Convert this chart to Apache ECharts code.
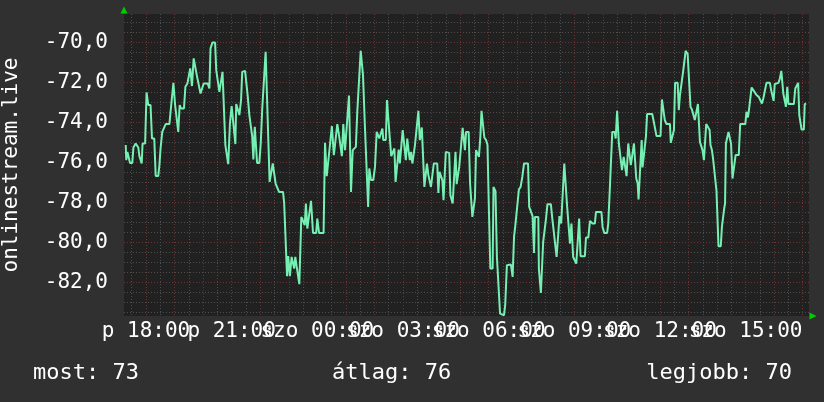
<!DOCTYPE html>
<html><head><meta charset="utf-8">
<script src="https://cdn.jsdelivr.net/npm/echarts@6/dist/echarts.min.js"></script>
<style>html,body{margin:0;padding:0;background:#303030;}#c{width:824px;height:402px;}</style>
</head><body><div id="c"></div>
<script>
// time in hours since Friday 00:00 (24 = Saturday 00:00)
const times = [
17.29,17.31,17.35,17.41,17.44,17.52,17.56,17.64,17.73,17.77,17.85,17.88,17.97,18.02,18.08,18.16,18.21,18.29,18.34,18.43,
18.47,18.51,18.57,18.64,18.69,18.82,18.86,18.91,18.96,19.02,19.07,19.13,19.18,19.23,19.33,19.38,19.45,19.51,19.55,19.61,
19.67,19.74,19.79,19.84,19.91,19.97,20.02,20.16,20.22,20.26,20.33,20.42,20.46,20.51,20.57,20.63,20.68,20.74,20.78,20.82,
20.88,20.94,21.00,21.07,21.13,21.16,21.21,21.27,21.33,21.37,21.47,21.51,21.56,21.62,21.67,21.72,21.76,21.81,21.85,21.89,
21.97,22.02,22.07,22.14,22.19,22.25,22.28,22.33,22.40,22.44,22.49,22.54,22.61,22.66,22.80,22.84,22.89,22.94,22.98,23.04,
23.10,23.15,23.19,23.23,23.28,23.35,23.37,23.42,23.44,23.51,23.56,23.60,23.65,23.72,23.78,23.82,23.85,23.96,24.00,24.06,
24.22,24.27,24.33,24.40,24.43,24.48,24.51,24.58,24.65,24.70,24.76,24.82,24.86,24.91,24.97,25.04,25.11,
25.18,25.24,25.31,25.35,25.40,25.46,25.52,25.57,25.60,25.63,25.67,25.73,25.78,25.82,25.88,25.96,26.02,26.08,26.15,26.17,
26.24,26.28,26.31,26.40,26.44,26.49,26.54,26.59,26.66,26.70,26.74,26.81,26.85,26.89,26.95,26.99,27.06,27.10,27.15,27.20,
27.24,27.28,27.33,27.38,27.42,27.48,27.54,27.59,27.66,27.71,27.75,27.80,27.84,27.89,27.94,27.98,28.04,28.08,28.20,28.24,
28.28,28.34,28.38,28.42,28.48,28.50,28.62,28.66,28.70,28.74,28.80,28.84,28.88,28.94,28.97,29.04,29.09,29.13,29.17,29.21,
29.30,29.35,29.39,29.43,29.49,29.52,29.56,29.61,29.66,29.71,29.75,29.81,29.85,29.91,29.96,30.01,30.06,30.14,30.17,30.24,
30.29,30.35,30.40,30.47,30.54,30.58,30.64,30.78,30.84,30.89,30.94,31.00,31.06,31.12,31.18,31.24,31.38,31.42,31.49,31.54,
31.59,31.62,31.74,31.76,31.80,31.83,31.88,31.91,31.97,32.01,32.06,32.18,32.23,32.27,32.33,32.38,32.44,32.48,32.54,32.60,
32.65,32.71,32.75,32.81,32.85,32.90,32.96,33.02,33.07,33.13,33.17,33.22,33.37,33.41,33.49,33.55,
33.64,33.72,33.76,33.95,33.99,34.05,34.15,34.19,34.25,34.29,34.33,34.41,34.45,34.50,34.56,34.62,34.67,34.73,34.78,34.83,
34.89,34.95,34.98,35.04,35.09,35.13,35.17,35.22,35.25,35.32,35.36,35.39,35.46,35.51,35.55,35.73,35.80,35.88,36.02,36.07,
36.13,36.17,36.23,36.35,36.38,36.44,36.49,36.53,36.62,36.66,36.70,36.76,36.81,36.86,36.90,36.97,37.02,37.07,37.12,37.18,
37.22,37.28,37.33,37.37,37.40,37.46,37.49,37.54,37.58,37.62,37.69,37.74,37.77,37.82,37.86,37.93,37.98,38.02,38.05,38.13,
38.17,38.21,38.25,38.28,38.31,38.36,38.40,38.45,38.49,38.54,38.60,38.65,38.76,38.81,38.99,39.03,39.08,39.11,39.16,39.21,
39.27,39.31,39.38,39.46,39.52,39.57,39.62,39.67,39.73,39.85,39.90,39.94,39.98,40.02,40.09,40.15,40.20,40.25,40.29,40.32,
40.35,40.39,40.41,40.46,40.50,40.69,40.74,40.78,40.84,40.88,40.92,40.96,41.04,41.07,41.12
];
const values = [
-75.13,-75.88,-75.47,-75.47,-76.02,-76.02,-75.25,-75.05,-75.25,-75.68,-76.05,-75.05,-75.05,-72.5,-73.13,-73.13,-74.8,-74.8,-76.67,-76.67,
-76.13,-75.3,-74.47,-74.47,-74.08,-74.08,-73.47,-73.47,-72.02,-73.13,-73.13,-74.47,-73.13,-73.3,-73.3,-72.22,-72.05,-72.05,-71.3,-72.18,
-70.8,-70.8,-71.72,-71.8,-72.55,-72.55,-72.05,-72.05,-72.3,-70.3,-70.0,-70.0,-71.38,-71.47,-72.47,-72.55,-71.47,-71.47,-75.13,-75.13,
-76.08,-74.05,-73.18,-73.18,-75.08,-73.08,-73.08,-73.63,-72.88,-71.47,-71.42,-71.42,-72.63,-73.63,-73.63,-74.68,-75.85,-74.22,-74.22,-76.02,
-76.02,-75.02,-73.35,-73.35,-70.47,-70.47,-74.68,-76.97,-76.97,-76.05,-76.05,-77.05,-77.05,-77.47,-77.47,-78.05,-78.05,-81.68,-80.68,-81.68,
-80.72,-80.72,-81.3,-80.72,-81.22,-81.22,-82.08,-82.08,-78.72,-78.72,-79.13,-78.05,-79.3,-79.3,-77.92,-77.92,-79.52,-79.52,-78.8,-79.52,
-79.52,-75.02,-76.68,-76.68,-75.3,-75.3,-74.18,-75.63,-75.63,-74.08,-74.63,-74.63,-75.68,-74.08,-75.38,-75.38,-72.65,
-77.47,-75.38,-75.47,-75.22,-73.47,-73.38,-70.42,-70.42,-71.63,-71.63,-74.3,-74.3,-78.22,-76.3,-76.88,-76.88,-76.22,-74.47,-74.47,-74.8,
-74.8,-74.3,-74.88,-74.88,-72.88,-72.88,-74.8,-75.68,-75.68,-75.3,-76.97,-76.97,-75.35,-76.05,-76.05,-74.38,-74.38,-75.88,-74.8,-75.47,
-75.88,-75.47,-76.05,-76.05,-75.13,-75.05,-73.42,-74.88,-74.25,-74.25,-77.22,-77.22,-76.05,-76.63,-76.63,-77.22,-77.22,-76.05,-76.05,-77.52,
-76.47,-76.47,-76.88,-77.88,-77.88,-75.47,-75.52,-77.63,-77.63,-78.05,-78.05,-75.47,-77.08,-77.08,-76.22,-76.22,-74.27,-74.27,-75.38,-74.47,
-74.47,-77.05,-77.05,-78.72,-78.72,-77.8,-75.38,-75.38,-75.72,-74.72,-73.42,-73.42,-74.75,-74.88,-75.13,-78.38,-81.3,-81.3,-77.22,-77.43,
-80.72,-80.72,-83.55,-83.63,-83.63,-83.13,-81.13,-81.1,-81.72,-79.72,-79.08,-79.02,-77.35,-77.22,-76.72,-76.05,-76.05,-78.22,-78.22,-78.68,
-80.52,-78.72,-78.72,-81.3,-81.3,-82.52,-82.52,-79.97,-79.97,-78.8,-78.08,-78.08,-78.8,-79.3,-79.3,-80.72,-79.55,-78.68,-79.05,-79.05,
-76.05,-76.05,-78.22,-78.22,-80.05,-79.05,-80.72,-80.72,-81.05,-79.72,-78.8,-80.68,-80.68,-79.75,-79.75,-78.92,
-79.05,-79.05,-78.47,-78.47,-79.22,-79.52,-79.52,-79.05,-77.13,-77.05,-74.47,-74.47,-74.8,-73.42,-75.05,-75.05,-76.38,-75.72,-75.72,-76.68,
-75.05,-75.05,-76.13,-76.13,-75.05,-75.05,-76.8,-77.05,-77.85,-77.85,-74.88,-76.25,-76.25,-74.68,-73.58,-73.58,-74.08,-74.68,-74.68,-72.85,
-72.85,-73.88,-74.08,-74.08,-75.02,-75.02,-74.38,-72.02,-72.02,-73.38,-72.63,-72.63,-71.47,-71.47,-70.42,-70.58,-70.58,-73.22,-73.35,-73.38,
-73.88,-73.88,-73.08,-73.08,-74.97,-75.05,-75.38,-75.88,-75.88,-74.08,-74.08,-74.38,-75.13,-75.38,-75.8,-75.8,-77.42,-77.42,-80.18,-80.18,
-79.22,-79.22,-78.3,-78.05,-75.05,-75.05,-74.47,-74.8,-75.05,-76.8,-76.8,-75.63,-75.63,-74.08,-74.08,-73.47,-73.75,-73.47,-73.47,-72.25,
-72.25,-72.47,-72.63,-72.72,-72.75,-73.05,-72.8,-72.72,-72.02,-72.02,-72.42,-72.42,-72.92,-72.08,-72.02,-72.02,-71.8,-71.42,-71.42,-72.55,
-72.55,-73.05,-73.22,-72.22,-73.08,-73.08,-72.3,-72.3,-72.02,-73.63,-73.63,-74.35,-74.35,-73.08,-73.05
];
const xLabelHours = [18, 21, 24, 27, 30, 33, 36, 39];
const xLabelTexts = ['p 18:00', 'p 21:00', 'szo 00:00', 'szo 03:00', 'szo 06:00', 'szo 09:00', 'szo 12:00', 'szo 15:00'];
const yLabelValues = [-82, -80, -78, -76, -74, -72, -70];
const yAxisTitle = 'onlinestream.live';
const legendTexts = ['most: 73', 'átlag: 76', 'legjobb: 70'];

const X_MIN = 17.23, X_MAX = 41.22;
const Y_MIN = -83.67, Y_MAX = -68.58;

const FONT = 'DejaVu Sans Mono';
const GRAY = '#4e4e4e';
const RED = '#6a3434';

const xMinor = [], xMajor = [];
for (let h = 17.5; h < X_MAX; h += 0.5) {
  if (Math.abs(h - Math.round(h)) < 1e-6) xMajor.push(h); else xMinor.push(h);
}
const yMinor = [];
for (let v = -83.5; v < Y_MAX; v += 0.5) {
  const r = Math.round(v * 2) / 2;
  if (!yLabelValues.includes(r)) yMinor.push(r);
}
// split the (overlapping) time labels over two axes so none gets hidden
const xLabelsA = xLabelHours.filter((_, i) => i % 2 === 0);
const xLabelsB = xLabelHours.filter((_, i) => i % 2 === 1);
const xLabelFmt = v => xLabelTexts[xLabelHours.indexOf(Math.round(v))] || '';

const data = times.map((t, i) => [t, values[i]]);
const legendStyle = {color: '#fff', fontFamily: FONT, fontSize: 22, fontWeight: 'normal'};
const xLabelStyle = {show: true, hideOverlap: false, showMinLabel: true, showMaxLabel: true,
                     margin: 5, color: '#fff', fontFamily: FONT, fontSize: 21, formatter: xLabelFmt};

const chart = echarts.init(document.getElementById('c'), null, {renderer: 'canvas'});
chart.setOption({
  animation: false,
  backgroundColor: '#303030',
  grid: {left: 124, right: 15, top: 14, bottom: 86, containLabel: false, outerBoundsMode: 'none',
         show: true, backgroundColor: '#212121', borderWidth: 0},
  title: [
    {text: legendTexts[0], left: 33, top: 362, padding: 0, textStyle: legendStyle},
    {text: legendTexts[1], left: 332, top: 362, padding: 0, textStyle: legendStyle},
    {text: legendTexts[2], right: 32, top: 362, padding: 0, textStyle: legendStyle}
  ],
  xAxis: [
    {type: 'value', min: X_MIN, max: X_MAX, position: 'bottom',
     axisLine: {show: false}, axisTick: {show: false, customValues: xMinor}, axisLabel: {show: false},
     splitLine: {show: true, customValues: xMinor, lineStyle: {color: GRAY, type: [1, 2], width: 1}}},
    {type: 'value', min: X_MIN, max: X_MAX, position: 'bottom',
     axisLine: {show: true, symbol: ['none', 'triangle'], symbolSize: [7, 7], symbolOffset: [0, 4],
                lineStyle: {color: '#00cc00', width: 0}},
     axisTick: {show: false, customValues: xMajor},
     splitLine: {show: true, customValues: xMajor, lineStyle: {color: RED, type: [1, 2], width: 1}},
     axisLabel: Object.assign({customValues: xLabelsA}, xLabelStyle)},
    {type: 'value', min: X_MIN, max: X_MAX, position: 'bottom',
     axisLine: {show: false}, axisTick: {show: false, customValues: xLabelsB}, splitLine: {show: false},
     axisLabel: Object.assign({customValues: xLabelsB}, xLabelStyle)}
  ],
  yAxis: [
    {type: 'value', min: Y_MIN, max: Y_MAX, position: 'left',
     axisLine: {show: false}, axisTick: {show: false, customValues: yMinor}, axisLabel: {show: false},
     splitLine: {show: true, customValues: yMinor, lineStyle: {color: GRAY, type: [1, 2], width: 1}}},
    {type: 'value', min: Y_MIN, max: Y_MAX, position: 'left',
     name: yAxisTitle, nameLocation: 'middle', nameRotate: 90, nameGap: 102,
     nameTextStyle: {color: '#fff', fontFamily: FONT, fontSize: 21},
     axisLine: {show: true, symbol: ['none', 'triangle'], symbolSize: [7, 7], symbolOffset: [0, 4],
                lineStyle: {color: '#00cc00', width: 0}},
     axisTick: {show: false, customValues: yLabelValues},
     splitLine: {show: true, customValues: yLabelValues, lineStyle: {color: RED, type: [1, 2], width: 1}},
     axisLabel: {show: true, customValues: yLabelValues, hideOverlap: false, showMinLabel: true, showMaxLabel: true,
                 margin: 16, color: '#fff', fontFamily: FONT, fontSize: 21,
                 formatter: v => v.toFixed(1).replace('.', ',')}}
  ],
  series: [{
    type: 'line', xAxisIndex: 0, yAxisIndex: 0, data: data,
    showSymbol: false, symbol: 'none', clip: true,
    lineStyle: {color: '#76efb3', width: 2}
  }]
});
</script></body></html>
